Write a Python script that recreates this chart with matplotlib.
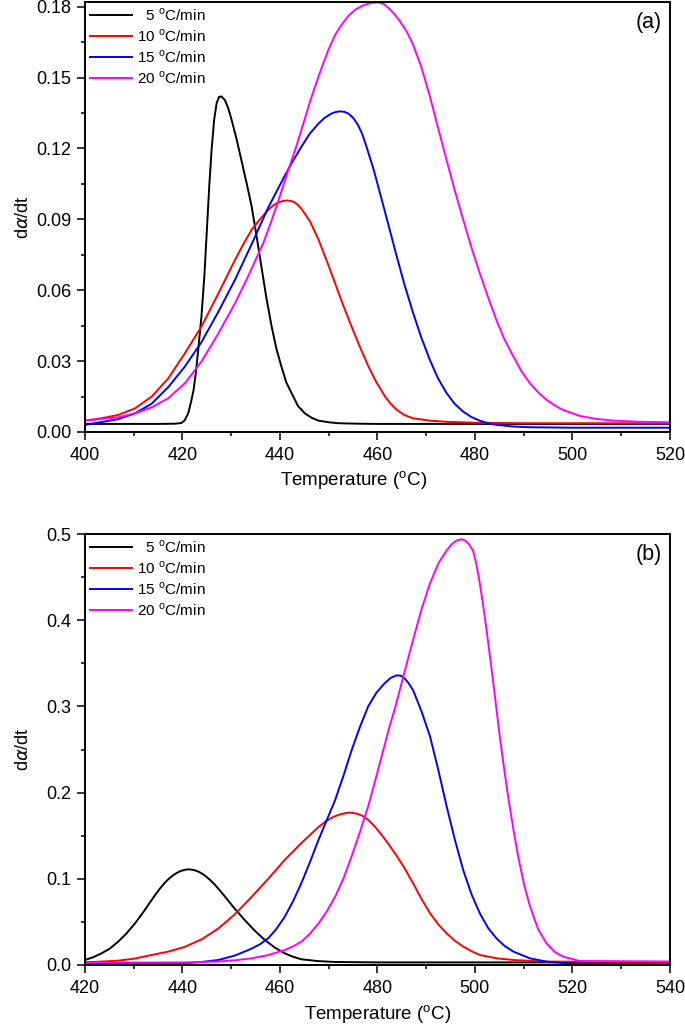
import matplotlib
matplotlib.use("Agg")
import matplotlib.pyplot as plt
from matplotlib.ticker import MultipleLocator, FormatStrFormatter

plt.rcParams["font.family"] = ["Liberation Sans", "DejaVu Sans"]
plt.rcParams["mathtext.fontset"] = "custom"
plt.rcParams["mathtext.rm"] = "Liberation Sans"

rates = ["  5", "10", "15", "20"]
colors = ["black", "red", "blue", "magenta"]

# panel (a), dalpha/dt vs temperature
a_T5 = [400, 415, 418.5, 419.8, 420.5, 421.2, 421.8, 422.3, 422.8, 423.3, 423.9, 424.5, 425.0, 425.5, 426.0,
        426.5, 427.0, 427.5, 428.0, 428.7, 429.4, 430.1, 431.1, 432.1, 433.2, 434.2, 435.2, 436.2, 437.2,
        438.3, 439.3, 440.3, 441.3, 442.4, 443.7, 445.1, 446.5, 447.9, 450, 452, 456, 460, 520]
a_v5 = [0.0034, 0.0034, 0.0035, 0.0038, 0.005, 0.008, 0.013, 0.018, 0.026, 0.036, 0.049, 0.066, 0.085, 0.104, 0.120,
        0.132, 0.139, 0.1418, 0.142, 0.1405, 0.137, 0.132, 0.124, 0.115, 0.105, 0.0954, 0.083, 0.070, 0.057,
        0.0446, 0.035, 0.0277, 0.021, 0.0164, 0.011, 0.0079, 0.006, 0.0048, 0.0041, 0.0037, 0.0035, 0.0034, 0.0034]
a_T10 = [400, 403.4, 406.8, 410.3, 413.7, 417.1, 420.5, 423.9, 427.4, 430.8, 432.5, 434.2, 435.9, 437.6, 438.6,
         439.5, 440.5, 441.4, 442.2, 443, 443.7, 444.4, 446.2, 447.9, 449.6, 451.3, 453, 454.7, 456.4, 458.1,
         459.8, 461.5, 462.7, 463.9, 465.5, 467.3, 470.7, 474.2, 480, 490, 500, 520]
a_v10 = [0.0048, 0.0058, 0.0072, 0.010, 0.015, 0.0227, 0.0333, 0.0446, 0.0587, 0.0729, 0.0795, 0.0856, 0.090, 0.094, 0.0958,
         0.097, 0.0977, 0.098, 0.0978, 0.0972, 0.0961, 0.0945, 0.089, 0.0815, 0.0725, 0.063, 0.0535, 0.0446, 0.036, 0.028,
         0.021, 0.0152, 0.012, 0.0095, 0.0072, 0.0058, 0.0048, 0.0043, 0.0039, 0.0037, 0.0037, 0.0037]
a_T15 = [400, 403.4, 406.8, 410.3, 413.7, 417.1, 420.5, 423.9, 427.4, 430.8, 434.2, 437.6, 441, 442.7, 444.4,
         446.1, 447.9, 449.2, 450.5, 451.4, 452.3, 453.2, 454, 455, 456, 456.9, 457.8, 459.3, 460.8, 462.4,
         464, 465.6, 467.3, 469, 470.7, 472.4, 474.2, 475.9, 477.6, 479.3, 481, 482.7, 484.4, 487.9, 491.3, 500, 520]
a_v15 = [0.003, 0.0042, 0.0054, 0.0079, 0.012, 0.019, 0.0277, 0.038, 0.051, 0.0645, 0.0795, 0.095, 0.1085, 0.1148, 0.1207,
         0.1262, 0.1305, 0.1330, 0.1347, 0.1354, 0.1357, 0.1355, 0.1348, 0.133, 0.130, 0.126, 0.1205, 0.1105, 0.099, 0.0865,
         0.074, 0.062, 0.0505, 0.040, 0.0308, 0.0228, 0.0164, 0.0118, 0.0086, 0.0063, 0.0048, 0.0037, 0.003, 0.0023, 0.002, 0.0018, 0.0018]
a_T20 = [400, 406.8, 410.3, 413.7, 417.1, 420.5, 423.9, 427.4, 430.8, 433.5, 436.6, 438.2, 439.7, 441.5, 443.3,
         444.8, 446.2, 447.5, 448.8, 450, 451.3, 452.7, 454, 455.5, 457, 458.5, 460.2, 461.4, 462.5, 463.5,
         464.5, 466, 467.3, 469, 470.7, 472.4, 474.2, 475.9, 477.6, 479.3, 481, 482.7, 484.4, 486.1, 487.9,
         489.6, 491.3, 493, 494.7, 496.4, 498.1, 501.5, 505, 508.4, 514, 520]
a_v20 = [0.0048, 0.0062, 0.0079, 0.0104, 0.0143, 0.0206, 0.0298, 0.0418, 0.0545, 0.066, 0.080, 0.089, 0.098, 0.1095, 0.1205,
         0.1305, 0.140, 0.148, 0.1555, 0.162, 0.168, 0.1725, 0.176, 0.1788, 0.1805, 0.1815, 0.1818, 0.181, 0.179, 0.1768,
         0.1742, 0.1695, 0.164, 0.1545, 0.1425, 0.129, 0.115, 0.102, 0.0898, 0.078, 0.0672, 0.057, 0.0474, 0.039, 0.0319,
         0.0255, 0.0206, 0.0167, 0.0136, 0.0112, 0.0093, 0.0068, 0.0055, 0.0048, 0.0043, 0.0041]

# panel (b)
b_T5 = [420, 421.7, 423.4, 425.1, 426.8, 428.5, 430.3, 432, 433.7, 434.5, 435.4, 436.3, 437.1, 438.3, 439.5,
        440.4, 441.2, 442.1, 443, 443.8, 444.6, 445.6, 446.6, 447.6, 448.7, 450.7, 452.8, 454.8, 456.9, 459,
        461, 462.7, 464.4, 467.8, 471.3, 480, 540]
b_v5 = [0.0058, 0.009, 0.0135, 0.019, 0.027, 0.0365, 0.0485, 0.0615, 0.0755, 0.082, 0.0888, 0.0948, 0.0995, 0.105, 0.1088,
        0.1103, 0.111, 0.1105, 0.109, 0.1068, 0.1038, 0.099, 0.0935, 0.087, 0.0795, 0.0655, 0.052, 0.040, 0.029, 0.020,
        0.0135, 0.0095, 0.0066, 0.0045, 0.0035, 0.003, 0.003]
b_T10 = [420, 426.8, 430.3, 433.7, 437.1, 440.5, 444, 447.4, 450.8, 454.2, 457.6, 461, 464.5, 467.9, 469.5,
         471, 472.5, 474, 475, 476, 477, 478.1, 479.5, 481, 482.5, 483.9, 485.6, 487.3, 489, 490.8,
         492.5, 494.2, 495.9, 497.6, 499.3, 501, 504.5, 507.9, 514.7, 540]
b_v10 = [0.003, 0.005, 0.0075, 0.0116, 0.0155, 0.021, 0.030, 0.0425, 0.059, 0.079, 0.100, 0.122, 0.142, 0.160, 0.167,
         0.172, 0.175, 0.1767, 0.1764, 0.1752, 0.1728, 0.1685, 0.1605, 0.150, 0.1385, 0.127, 0.112, 0.095, 0.077, 0.060,
         0.047, 0.0367, 0.028, 0.0213, 0.016, 0.0116, 0.0077, 0.0058, 0.0039, 0.0035]
b_T15 = [420, 440.5, 444, 447.4, 450.8, 454.2, 455.9, 457.6, 459.3, 461, 462.7, 464.4, 466.2, 467.9, 469.6,
         471.3, 473, 474.7, 476.4, 478.1, 479.8, 481.5, 482.7, 483.9, 484.7, 485.5, 486.4, 487.3, 489, 490.8,
         492.5, 494.2, 495.9, 497.6, 499.3, 501, 502.7, 504.4, 506.1, 507.9, 511.3, 514.7, 520, 540]
b_v15 = [0.001, 0.002, 0.0035, 0.0058, 0.011, 0.019, 0.024, 0.031, 0.042, 0.056, 0.074, 0.095, 0.120, 0.145, 0.168,
         0.191, 0.219, 0.249, 0.276, 0.300, 0.316, 0.327, 0.333, 0.336, 0.3358, 0.333, 0.327, 0.319, 0.295, 0.265,
         0.226, 0.184, 0.145, 0.110, 0.082, 0.060, 0.043, 0.031, 0.022, 0.0155, 0.0077, 0.0039, 0.0015, 0.001]
b_T20 = [420, 440, 447.4, 450.8, 454.2, 457.6, 461, 462.7, 464.4, 466.1, 467.9, 469.6, 471.3, 473, 474.7,
         476.4, 478.1, 479.5, 481, 482.4, 483.9, 485.6, 487.3, 489, 490.8, 492.5, 494.2, 495.2, 496.2, 497.3,
         498, 498.8, 499.6, 500.3, 501, 501.7, 502.4, 503.3, 504.2, 505.1, 506, 506.9, 507.9, 509, 510.1,
         511.3, 513, 514.7, 516.4, 518.1, 521.5, 540]
b_v20 = [0.0027, 0.003, 0.004, 0.0055, 0.0077, 0.0115, 0.0174, 0.0215, 0.027, 0.036, 0.048, 0.062, 0.079, 0.100, 0.126,
         0.154, 0.184, 0.213, 0.245, 0.275, 0.304, 0.341, 0.377, 0.412, 0.443, 0.466, 0.481, 0.488, 0.4925, 0.494,
         0.4925, 0.488, 0.481, 0.465, 0.443, 0.417, 0.388, 0.349, 0.307, 0.265, 0.227, 0.192, 0.157, 0.122, 0.093,
         0.068, 0.041, 0.025, 0.015, 0.0097, 0.0046, 0.004]

panels = [
    ([(a_T5, a_v5), (a_T10, a_v10), (a_T15, a_v15), (a_T20, a_v20)], (400, 520), (0, 0.182), 0.03, "%.2f", "(a)", 0.46),
    ([(b_T5, b_v5), (b_T10, b_v10), (b_T15, b_v15), (b_T20, b_v20)], (420, 540), (0, 0.5), 0.1, "%.1f", "(b)", 0.5),
]

fig = plt.figure(figsize=(6.85, 10.28), dpi=100)
axes = [fig.add_axes([0.124, 0.5798, 0.854, 0.4183]),
        fig.add_axes([0.124, 0.0613, 0.854, 0.4192])]

for ax, (series, xlim, ylim, ystep, yfmt, tag, xlab_x) in zip(axes, panels):
    for (T, v), c, r in zip(series, colors, rates):
        ax.plot(T, v, color=c, lw=1.4, label=r + r" $^{\mathrm{o}}$C/min", solid_joinstyle="round")
    ax.set_xlim(*xlim)
    ax.set_ylim(*ylim)
    ax.xaxis.set_major_locator(MultipleLocator(20))
    ax.xaxis.set_minor_locator(MultipleLocator(10))
    ax.yaxis.set_major_locator(MultipleLocator(ystep))
    ax.yaxis.set_minor_locator(MultipleLocator(ystep / 2))
    ax.yaxis.set_major_formatter(FormatStrFormatter(yfmt))
    ax.tick_params(which="major", direction="out", length=5.5, width=1.1, labelsize=13)
    ax.tick_params(which="minor", direction="out", length=3, width=1.1)
    ax.tick_params(axis="x", which="major", pad=5.5)
    ax.tick_params(axis="y", which="major", pad=4)
    for s in ax.spines.values():
        s.set_linewidth(1.4)
    ax.set_xlabel(r"Temperature ($^{\mathrm{o}}$C)", fontsize=13.5, labelpad=4)
    ax.xaxis.label.set_x(xlab_x)
    ax.set_ylabel(r"d$\alpha$/dt", fontsize=13)
    ax.yaxis.set_label_coords(-0.09, 0.5)
    ax.text(0.986, 0.952, tag, transform=ax.transAxes, ha="right", va="center", fontsize=15.5)
    ax.legend(loc="upper left", frameon=False, fontsize=11, handlelength=2.8, handletextpad=0.3,
              labelspacing=0.28, borderaxespad=0.1, borderpad=0.2)

fig.savefig("out.png", dpi=100)
